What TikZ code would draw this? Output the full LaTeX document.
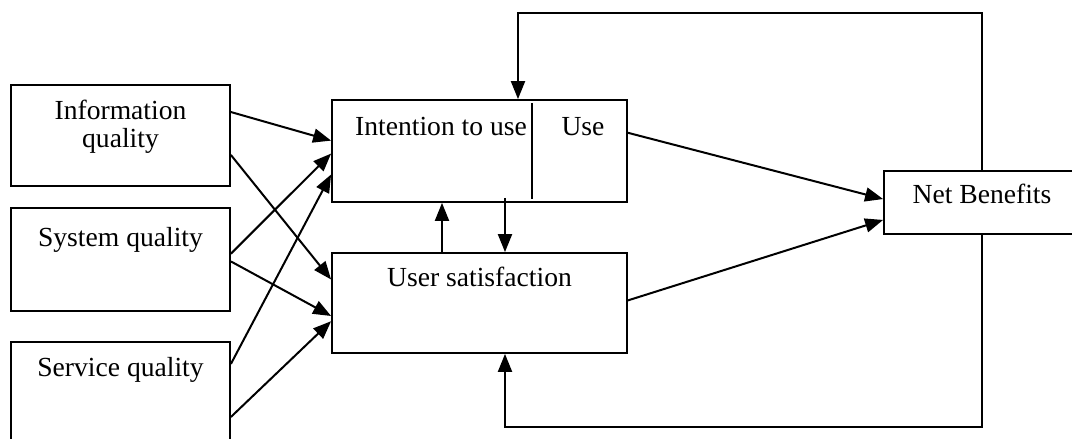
\documentclass[tikz,border=0pt]{standalone}
\usepackage{fontspec}
\setmainfont{Liberation Serif}
\usetikzlibrary{arrows.meta}
\tikzset{
  qualbox/.style={draw, line width=0.9pt, minimum width=109.5pt, inner sep=0pt},
  modelbox/.style={draw, line width=0.9pt, minimum width=147.5pt, inner sep=0pt},
  boxtext/.style={anchor=north, inner sep=0pt, align=center},
  flow/.style={line width=1pt, -{Triangle[length=9pt, width=7pt]}}
}

\begin{document}
\begin{tikzpicture}[x=0.5pt, y=-0.5pt, font=\fontsize{13.8}{14}\selectfont]
  \useasboundingbox (0,0) rectangle (1072,439);
  \clip (0,0) rectangle (1072,439);
  \fill[white] (0,0) rectangle (1072,439);

  % the three quality boxes
  \node[qualbox, minimum height=50.5pt, label={[boxtext, yshift=-8pt]north:{Information\\quality}}] (info) at (120.5,135.5) {};
  \node[qualbox, minimum height=51.5pt, label={[boxtext, yshift=-10pt]north:System quality}] (sys) at (120.5,259.5) {};
  \node[qualbox, minimum height=51.5pt, label={[boxtext, yshift=-8pt]north:Service quality}] (serv) at (120.5,393.5) {};

  % use and satisfaction
  \node[modelbox, minimum height=51pt,
        label={[boxtext, xshift=-19.25pt, yshift=-9pt]north:Intention to use},
        label={[boxtext, xshift=51.75pt, yshift=-9pt]north:Use}] (usebox) at (479.5,151) {};
  \draw[line width=0.7pt] ([xshift=26.25pt, yshift=-2pt]usebox.north) -- ([xshift=26.25pt, yshift=2pt]usebox.south);
  \node[modelbox, minimum height=50pt, label={[boxtext, yshift=-7.5pt]north:User satisfaction}] (usat) at (479.5,303) {};

  \node[draw, line width=0.9pt, minimum width=98pt, minimum height=31.5pt, inner sep=0pt,
        label={[boxtext, yshift=-7pt]north:Net Benefits}] (net) at (982,202.5) {};

  % quality -> use / satisfaction
  \draw[flow] (info.12) -- (usebox.176);
  \draw[flow] (info.-10) -- (usat.171);
  \draw[flow] (sys.3) -- (usebox.181);
  \draw[flow] (sys.-1) -- (usat.185);
  \draw[flow] (serv.15) -- (usebox.189);
  \draw[flow] (serv.-12) -- (usat.187.5);

  % between use and satisfaction
  \draw[flow] ([xshift=-18.75pt]usat.north) -- ([xshift=-18.75pt]usebox.south);
  \draw[flow] ([xshift=12.75pt, yshift=2.5pt]usebox.south) -- ([xshift=12.75pt]usat.north);

  % to net benefits
  \draw[flow] (usebox.7) -- (net.178.5);
  \draw[flow] (usat.1) -- (net.190);

  % feedback loops
  \coordinate (topL) at (518,13);
  \coordinate (botL) at (505,427);
  \draw[flow] (net.north) |- (topL) -- (topL |- usebox.north);
  \draw[flow] (net.south) |- (botL) -- (botL |- usat.south);
\end{tikzpicture}
\end{document}
